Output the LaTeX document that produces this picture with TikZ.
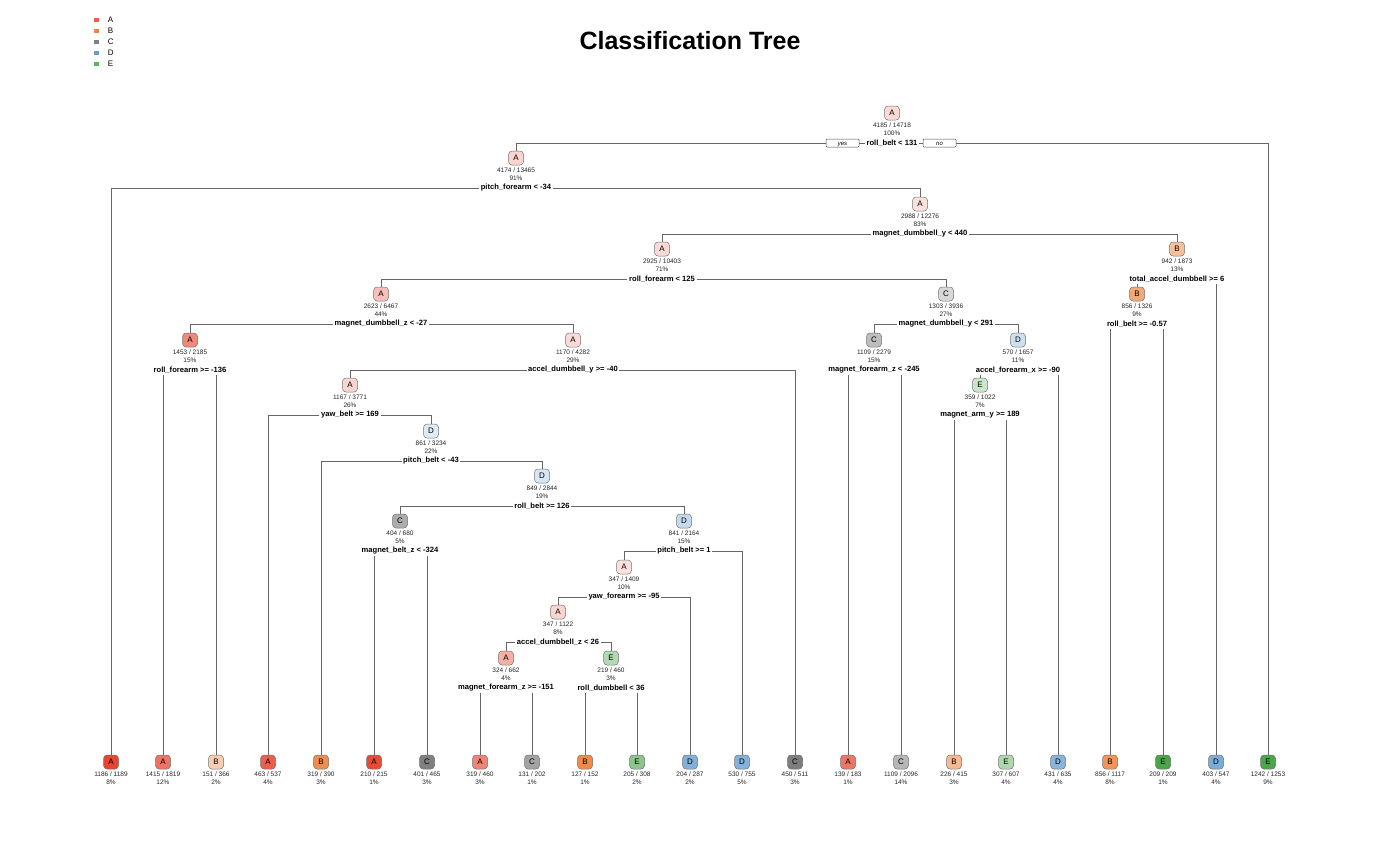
\documentclass[tikz,border=0pt]{standalone}
\usepackage{fontspec}
\setmainfont{Liberation Sans}
\usetikzlibrary{positioning}

\definecolor{cA}{RGB}{232,68,46}
\definecolor{cB}{RGB}{236,112,32}
\definecolor{cC}{RGB}{105,105,105}
\definecolor{cD}{RGB}{70,140,200}
\definecolor{cE}{RGB}{72,165,72}

\tikzset{
	cls/.style={draw=black!55, line width=.5pt, rounded corners=3.5pt, minimum width=15pt, minimum height=14pt, inner sep=0pt, font=\fontsize{8}{8}\selectfont},
	stat/.style={inner sep=0pt, text=black!85, font=\fontsize{6.5}{6.5}\selectfont},
	splitlab/.style={inner sep=1.5pt, font=\fontsize{7.6}{7.6}\selectfont\bfseries},
	branch/.style={draw=black!60, line width=.75pt},
	yn/.style={draw=black!70, line width=.5pt, rounded corners=1pt, minimum width=33pt, minimum height=8pt, inner sep=0pt, text height=4.2pt, text depth=0pt, font=\fontsize{6}{6}\selectfont\itshape},
	legbox/.style={minimum width=5pt, minimum height=4pt, inner sep=0pt},
	legtxt/.style={inner sep=0pt, font=\fontsize{8}{8}\selectfont}
}

\begin{document}
\begin{tikzpicture}[x=1pt, y=-1pt]
	\useasboundingbox (0,0) rectangle (1380,852);
	% title and legend
	\node[font=\fontsize{25}{25}\selectfont\bfseries] (title) at (690,41) {Classification Tree};
	\foreach \k [count=\i] in {A,B,C,D,E} {
		\node[legbox, fill=c\k!85!white] (lg\k) at (96,9+11*\i) {};
		\node[legtxt, right=9pt of lg\k] (lt\k) {\k};
	}
	% split nodes
	\foreach \nm/\x/\y/\k/\p/\na/\nb/\pc/\txt in {
		1/892/113/A/20/4185/14718/100/roll\_belt < 131,
		2/516/158/A/23/4174/13465/91/pitch\_forearm < -34,
		5/920/204/A/16/2988/12276/83/magnet\_dumbbell\_y < 440,
		10/662/249/A/20/2925/10403/71/roll\_forearm < 125,
		11/1177/249/B/45/942/1873/13/total\_accel\_dumbbell >= 6,
		20/381/294/A/34/2623/6467/44/magnet\_dumbbell\_z < -27,
		21/946/294/C/26/1303/3936/27/magnet\_dumbbell\_y < 291,
		22/1137/294/B/61/856/1326/9/roll\_belt >= -0.57,
		40/190/340/A/63/1453/2185/15/roll\_forearm >= -136,
		41/573/340/A/19/1170/4282/29/accel\_dumbbell\_y >= -40,
		42/874/340/C/43/1109/2279/15/magnet\_forearm\_z < -245,
		43/1018/340/D/27/570/1657/11/accel\_forearm\_x >= -90,
		82/350/385/A/23/1167/3771/26/yaw\_belt >= 169,
		86/980/385/E/28/359/1022/7/magnet\_arm\_y >= 189,
		165/431/431/D/18/861/3234/22/pitch\_belt < -43,
		331/542/476/D/22/849/2844/19/roll\_belt >= 126,
		662/400/521/C/55/404/680/5/magnet\_belt\_z < -324,
		663/684/521/D/32/841/2164/15/pitch\_belt >= 1,
		1326/624/567/A/16/347/1409/10/yaw\_forearm >= -95,
		2652/558/612/A/23/347/1122/8/accel\_dumbbell\_z < 26,
		5304/506/658/A/43/324/662/4/magnet\_forearm\_z >= -151,
		5305/611/658/E/42/219/460/3/roll\_dumbbell < 36} {
		\node[cls, fill=c\k!\p!white] (n\nm) at (\x,\y) {\k};
		\node[stat] (n\nm a) at (\x,\y+12) {\na{} / \nb};
		\node[stat] (n\nm b) at (\x,\y+20) {\pc\%};
		\node[splitlab] (s\nm) at (\x,\y+30) {\txt};
	}
	% leaves
	\foreach \nm/\x/\k/\p/\na/\nb/\pc in {
		4/111/A/100/1186/1189/8, 80/163/A/75/1415/1819/12, 81/216/B/35/151/366/2,
		164/268/A/85/463/537/4, 330/321/B/80/319/390/3, 1324/374/A/97/210/215/1,
		1325/427/C/85/401/465/3, 10608/480/A/66/319/460/3, 10609/532/C/61/131/202/1,
		10610/585/B/82/127/152/1, 10611/637/E/63/205/308/2, 2653/690/D/68/204/287/2,
		1327/742/D/67/530/755/5, 83/795/C/87/450/511/3, 84/848/A/73/139/183/1,
		85/901/C/48/1109/2096/14, 172/954/B/49/226/415/3, 173/1006/E/45/307/607/4,
		87/1058/D/64/431/635/4, 44/1110/B/74/856/1117/8, 45/1163/E/100/209/209/1,
		23/1216/D/71/403/547/4, 3/1268/E/99/1242/1253/9} {
		\node[cls, fill=c\k!\p!white] (n\nm) at (\x,762) {\k};
		\node[stat] (n\nm a) at (\x,774) {\na{} / \nb};
		\node[stat] (n\nm b) at (\x,782) {\pc\%};
	}
	% root branches with yes / no
	\node[yn, fill=white] (yes1) at (842.5,143) {yes};
	\node[yn, fill=white] (no1) at (939.5,143) {no};
	\draw[branch] (n2.north) |- (yes1);
	\draw[branch] (yes1) -- (s1);
	\draw[branch] (s1) -- (no1);
	\draw[branch] (no1) -| (n3.north);
	% wide branches
	\foreach \s/\l/\r in {2/4/5, 5/10/11, 10/20/21, 20/40/41, 21/42/43, 41/82/83,
		82/164/165, 165/330/331, 331/662/663, 663/1326/1327, 1326/2652/2653, 2652/5304/5305} {
		\draw[branch] (n\l.north) |- (s\s);
		\draw[branch] (n\r.north) |- (s\s);
	}
	% narrow branches, straight down from the label
	\foreach \s/\l/\r in {11/22/23, 22/44/45, 40/80/81, 42/84/85, 43/86/87,
		86/172/173, 662/1324/1325, 5304/10608/10609, 5305/10610/10611} {
		\draw[branch] (n\l.north) -- (n\l.north |- s\s.south);
		\draw[branch] (n\r.north) -- (n\r.north |- s\s.south);
	}
\end{tikzpicture}
\end{document}
